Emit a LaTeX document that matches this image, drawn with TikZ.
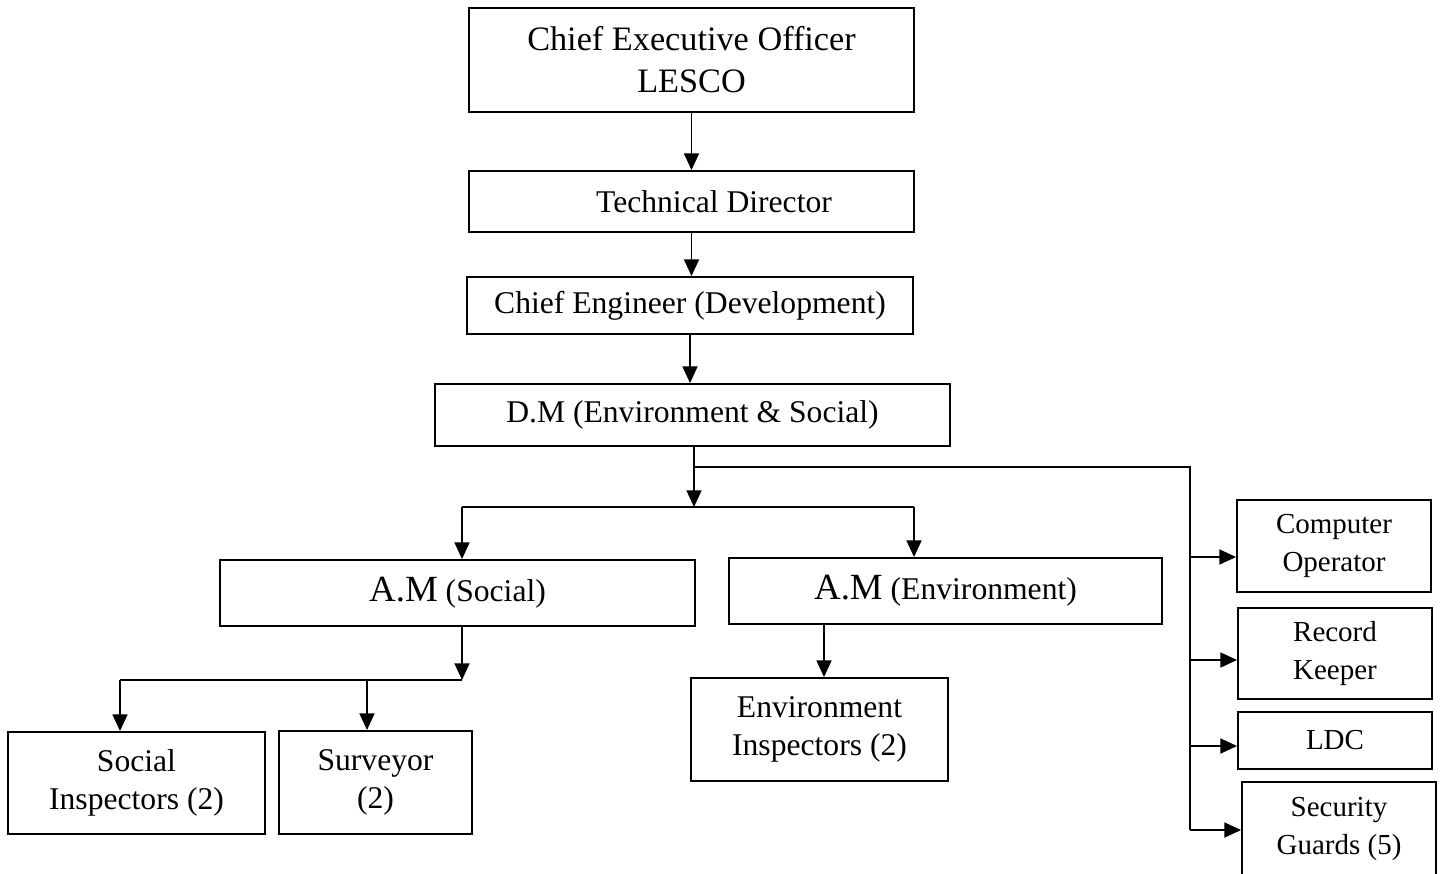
\documentclass[tikz,border=0pt]{standalone}
\usepackage{fontspec}
\setmainfont{Liberation Serif}
\usetikzlibrary{arrows.meta}

\begin{document}
\begin{tikzpicture}[
    x=0.02cm, y=-0.02cm,
    line width=1.1pt,
    every node/.style={draw, inner sep=0pt, align=center, font=\fontsize{18}{22}\selectfont},
    staffbox/.style={minimum width=3.88cm, font=\fontsize{16.5}{22}\selectfont},
    arr/.style={-{Triangle[length=9.5pt,width=8.5pt]}},
]
\useasboundingbox (0,0) rectangle (1442,873);
\clip (0,0) rectangle (1442,873);

\node[minimum width=8.9cm, minimum height=2.08cm, font=\fontsize{19.5}{23.8}\selectfont] (ceo) at (691.5,60) {Chief Executive Officer\\LESCO};
\node[minimum width=8.9cm, minimum height=1.22cm] (tech) at (691.5,201.5) {\hspace*{0.9cm}Technical Director};
\node[minimum width=8.92cm, minimum height=1.14cm] (chief) at (690,305.5) {Chief Engineer (Development)};
\node[minimum width=10.3cm, minimum height=1.24cm] (dm) at (692.5,415) {D.M (Environment \& Social)};

\node[minimum width=9.5cm, minimum height=1.32cm] (amsoc) at (457.5,593) {{\fontsize{21}{25}\selectfont A.M} (Social)};
\node[minimum width=8.66cm, minimum height=1.32cm] (amenv) at (945.5,591) {{\fontsize{21}{25}\selectfont A.M} (Environment)};

\node[minimum width=5.14cm, minimum height=2.04cm] (socins) at (136.5,783) {Social\\Inspectors (2)};
\node[minimum width=3.86cm, minimum height=2.06cm] (surv) at (375.5,782.5) {Surveyor\\(2)};
\node[minimum width=5.14cm, minimum height=2.06cm] (envins) at (819.5,729.5) {Environment\\Inspectors (2)};

\node[staffbox, minimum height=1.84cm] (comp) at (1334,546) {Computer\\Operator};
\node[staffbox, minimum height=1.82cm] (rec) at (1335,653.5) {Record\\Keeper};
\node[staffbox, minimum height=1.14cm] (ldc) at (1335,740.5) {LDC};
\node[staffbox, minimum height=1.88cm] (sec) at (1339,829) {Security\\Guards (5)};

\coordinate (split) at (694,467);
\coordinate (fork) at (694,507);
\coordinate (busL) at (462,507);
\coordinate (busR) at (914,507);
\coordinate (rail) at (1190,467);
\coordinate (railend) at (1190,830);
\coordinate (sub) at (462,680);
\coordinate (subL) at (120,680);
\coordinate (subM) at (367,680);
\coordinate (envtap) at (824,650);

\draw[arr] (ceo.south) -- (tech.north);
\draw[arr] (tech.south) -- (chief.north -| tech.south);
\draw[arr] (chief.south) -- (dm.north -| chief.south);
\draw[arr] (dm.south -| fork) -- (fork);
\draw (split) -- (rail) -- (railend);
\draw (busL) -- (busR);
\draw[arr] (busL) -- (amsoc.north -| busL);
\draw[arr] (busR) -- (amenv.north -| busR);

\foreach \staff/\ypos in {comp/557,rec/660,ldc/746,sec/830} {
    \coordinate (tap) at (1190,\ypos);
    \draw[arr] (tap) -- (\staff.west |- tap);
}

\draw[arr] (amsoc.south -| sub) -- (sub);
\draw (sub) -- (subL);
\draw[arr] (subL) -- (socins.north -| subL);
\draw[arr] (subM) -- (surv.north -| subM);
\draw[arr] (amenv.south -| envtap) -- (envins.north -| envtap);
\end{tikzpicture}
\end{document}
